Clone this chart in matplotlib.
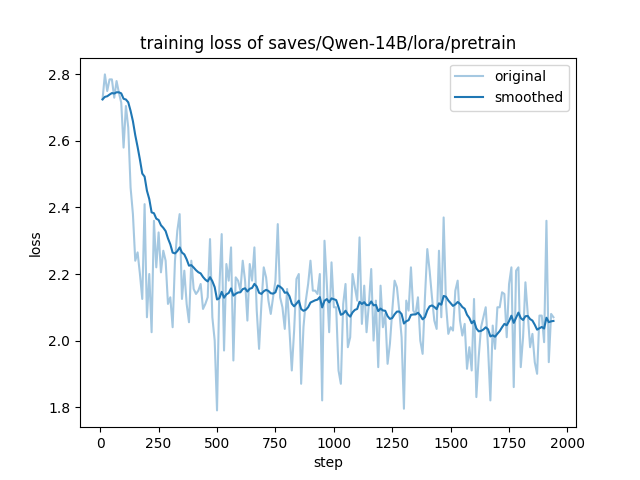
import math
import matplotlib
matplotlib.use("Agg")
from matplotlib import pyplot as plt

# logged every 10 steps
steps = list(range(10, 1950, 10))

losses = [
    # 10 - 330
    2.725, 2.80, 2.75, 2.785, 2.785, 2.73, 2.78, 2.745, 2.715, 2.58, 2.705,
    2.64, 2.46, 2.38, 2.24, 2.265, 2.20, 2.125, 2.41, 2.07, 2.20, 2.025,
    2.36, 2.22, 2.325, 2.205, 2.27, 2.24, 2.11, 2.13, 2.04, 2.24, 2.33,
    # 340 - 670
    2.38, 2.125, 2.21, 2.11, 2.055, 2.24, 2.155, 2.14, 2.15, 2.17, 2.095,
    2.11, 2.13, 2.305, 2.07, 2.0, 1.79, 2.16, 2.32, 1.97, 2.23, 2.18,
    2.28, 1.94, 2.19, 2.18, 2.15, 2.24, 2.18, 2.06, 2.23, 2.18, 2.28, 2.09,
    # 680 - 1020
    1.975, 2.11, 2.22, 2.19, 2.12, 2.08, 2.13, 2.18, 2.35, 2.13, 2.10,
    2.035, 2.155, 2.03, 1.91, 2.03, 2.185, 2.2, 1.87, 2.04, 2.12, 2.17,
    2.24, 2.15, 2.15, 2.14, 2.2, 1.82, 2.30, 2.17, 2.025, 2.235, 2.10,
    2.10, 1.91,
    # 1030 - 1360
    1.87, 2.11, 2.17, 1.98, 2.01, 2.2, 2.16, 2.12, 2.31, 2.05, 2.165,
    2.025, 2.11, 2.215, 2.0, 2.12, 1.92, 2.165, 2.04, 2.08, 1.93, 1.99,
    2.09, 2.18, 2.16, 2.09, 2.01, 1.795, 2.12, 2.09, 2.22, 2.09, 2.08, 2.13,
    # 1370 - 1700
    2.0, 1.96, 2.13, 2.275, 2.21, 2.13, 2.06, 2.035, 2.27, 2.07, 2.37,
    2.11, 2.02, 2.04, 2.03, 2.15, 2.18, 2.06, 2.015, 2.05, 1.915, 1.98,
    1.91, 2.125, 1.83, 1.95, 2.04, 2.07, 2.10, 1.98, 1.82, 2.045, 1.975, 2.10,
    # 1710 - 1940
    2.10, 2.145, 2.14, 2.01, 2.17, 2.22, 1.86, 2.21, 2.22, 1.92, 2.01,
    2.175, 2.08, 1.98, 2.02, 1.935, 1.90, 2.075, 2.075, 1.995, 2.36, 1.935,
    2.08, 2.07,
]


def smooth(scalars):
    # exponential moving average, weight grows with number of points
    last = scalars[0]
    out = []
    weight = 1.8 * (1 / (1 + math.exp(-0.05 * len(scalars))) - 0.5)
    for v in scalars:
        last = last * weight + (1 - weight) * v
        out.append(last)
    return out


plt.figure(figsize=(6.4, 4.8), dpi=100)
plt.plot(steps, losses, color="#1f77b4", alpha=0.4, label="original")
plt.plot(steps, smooth(losses), color="#1f77b4", label="smoothed")
plt.legend()
plt.title("training loss of saves/Qwen-14B/lora/pretrain")
plt.xlabel("step")
plt.ylabel("loss")
plt.savefig("out.png", dpi=100)
